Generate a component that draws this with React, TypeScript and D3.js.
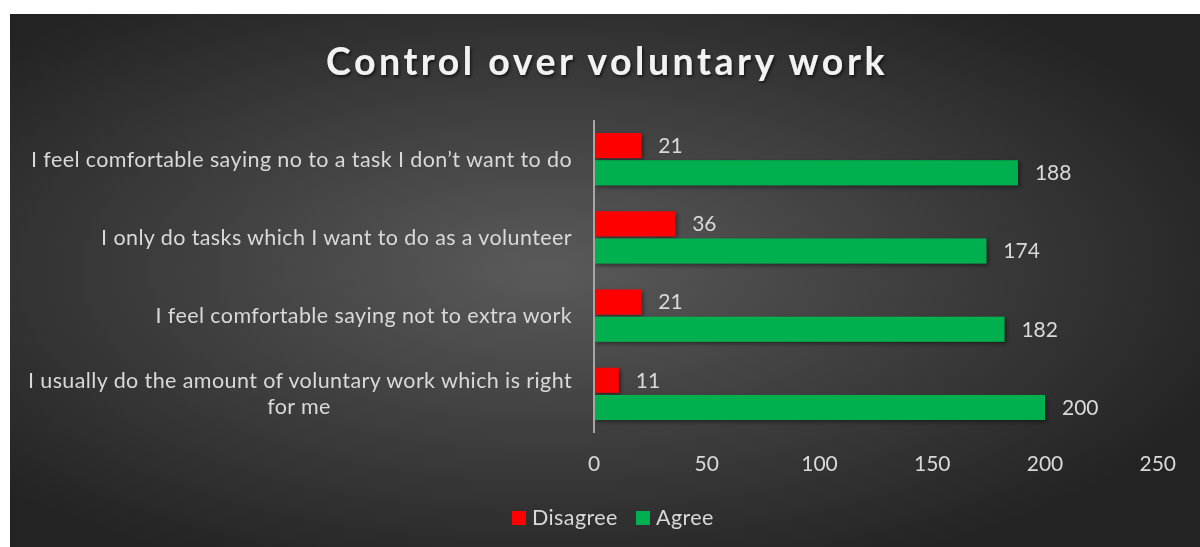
import React from "react";
import * as d3 from "d3";

const categoryLines = [
  ["I feel comfortable saying no to a task I don\u2019t want to do"],
  ["I only do tasks which I want to do as a volunteer"],
  ["I feel comfortable saying not to extra work"],
  ["I usually do the amount of voluntary work which is right", "for me"],
];
const disagree = [21, 36, 21, 11];
const agree = [188, 174, 182, 200];
const seriesNames = ["Disagree", "Agree"];
const seriesColors = ["#ff0000", "#00b050"];
const ticks = [0, 50, 100, 150, 200, 250];

const W = 1200;
const H = 547;
const FONT = "Lato, 'Open Sans', sans-serif";
const TEXT = "#d9d9d9";
const FS = 21.5;
const LS = 0.4;

export default function App() {
  const x = d3.scaleLinear().domain([0, 250]).range([594, 1157.75]);
  const y = d3
    .scaleBand<number>()
    .domain(d3.range(categoryLines.length))
    .range([120, 433])
    .paddingInner(0)
    .paddingOuter(0);
  const inner = d3
    .scaleBand<number>()
    .domain([0, 1])
    .range([13, y.bandwidth() - 13])
    .paddingInner(0.08);
  const series = [disagree, agree];

  return (
    <div style={{ position: "fixed", left: 0, top: 0 }}>
      <svg width={W} height={H} style={{ display: "block" }}>
        <defs>
          <radialGradient id="bg" cx="45%" cy="48%" r="62%" fx="45%" fy="48%">
            <stop offset="0%" stopColor="#5a5a5a" />
            <stop offset="100%" stopColor="#232323" />
          </radialGradient>
          <filter id="shadow" x="-10%" y="-30%" width="130%" height="180%">
            <feDropShadow dx="2" dy="2" stdDeviation="2" floodColor="#000" floodOpacity="0.45" />
          </filter>
          <filter id="tshadow" x="-5%" y="-30%" width="110%" height="180%">
            <feDropShadow dx="1.5" dy="2" stdDeviation="1.5" floodColor="#000" floodOpacity="0.6" />
          </filter>
        </defs>
        <rect x={10} y={14} width={W - 10} height={H - 14} fill="url(#bg)" />
        <text
          x={607}
          y={75}
          textAnchor="middle"
          fill="#f2f2f2"
          fontFamily={FONT}
          fontWeight="bold"
          fontSize={37.5}
          letterSpacing={3.5}
          filter="url(#tshadow)"
        >
          Control over voluntary work
        </text>

        {categoryLines.map((lines, i) => {
          const y0 = y(i)!;
          return (
            <g key={i}>
              {series.map((vals, s) => {
                const by = y0 + inner(s)!;
                const bh = inner.bandwidth();
                return (
                  <g key={s}>
                    <rect
                      x={x(0)}
                      y={by}
                      width={x(vals[i]) - x(0)}
                      height={bh}
                      fill={seriesColors[s]}
                      filter="url(#shadow)"
                    />
                    <text
                      x={x(vals[i]) + 17}
                      y={by + bh / 2}
                      dy="0.35em"
                      fill={TEXT}
                      fontFamily={FONT}
                      fontSize={21}
                    >
                      {vals[i]}
                    </text>
                  </g>
                );
              })}
              {lines.map((line, k) => {
                const n = lines.length;
                const cy = y0 + y.bandwidth() / 2 + (k - (n - 1) / 2) * 26;
                return (
                  <text
                    key={k}
                    x={n > 1 && k > 0 ? 299 : 572}
                    y={cy}
                    dy="0.35em"
                    textAnchor={n > 1 && k > 0 ? "middle" : "end"}
                    fill={TEXT}
                    fontFamily={FONT}
                    fontSize={FS}
                    letterSpacing={LS}
                  >
                    {line}
                  </text>
                );
              })}
            </g>
          );
        })}

        <line x1={x(0)} x2={x(0)} y1={120} y2={433} stroke="#a6a6a6" strokeWidth={2} />

        {ticks.map((t) => (
          <text
            key={t}
            x={x(t)}
            y={471}
            textAnchor="middle"
            fill={TEXT}
            fontFamily={FONT}
            fontSize={21}
          >
            {t}
          </text>
        ))}

        {seriesNames.map((n, s) => {
          const lx = [512, 636][s];
          return (
            <g key={n}>
              <rect x={lx} y={511} width={14} height={14} fill={seriesColors[s]} />
              <text
                x={lx + 20}
                y={525}
                fill={TEXT}
                fontFamily={FONT}
                fontSize={FS}
                letterSpacing={LS}
              >
                {n}
              </text>
            </g>
          );
        })}
      </svg>
    </div>
  );
}
